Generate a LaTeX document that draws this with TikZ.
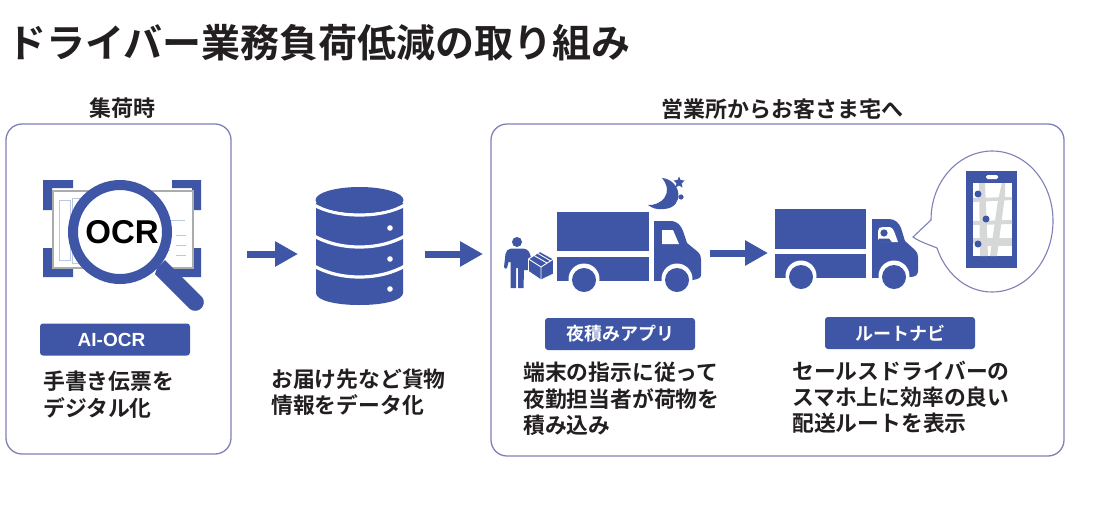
\documentclass[tikz,border=0pt]{standalone}
\usepackage{fontspec}
\setmainfont{Noto Sans CJK JP}[BoldFont={Noto Sans CJK JP Bold}]
\newfontfamily\latinb{Liberation Sans}[BoldFont={Liberation Sans Bold}]
\usetikzlibrary{arrows.meta}
\definecolor{navy}{HTML}{3F55A5}
\definecolor{frame}{HTML}{7F80B8}
\definecolor{road}{HTML}{D6D8D8}
\definecolor{ink}{HTML}{231F20}
\definecolor{faint}{HTML}{BBC8E4}
\tikzset{
  panel/.style={draw=frame,line width=1.3pt,fill=white,rounded corners=16pt},
  flow/.style={draw=navy,line width=7pt,-{Triangle[length=23pt,width=24pt]}},
  tag/.style={fill=navy,rounded corners=3pt,minimum width=150pt,minimum height=32pt,inner sep=0pt,text=white,font=\bfseries\fontsize{18}{18}\selectfont},
  caption/.style={anchor=west,inner sep=0pt,text=ink,font=\bfseries\fontsize{21.8}{21.8}\selectfont},
  heading/.style={inner sep=0pt,text=ink,font=\bfseries\fontsize{22}{22}\selectfont},
  icon/.style={fill=navy,draw=none},
  cut/.style={fill=white,draw=none},
  band/.style={draw=white,line width=3.2pt},
  pageline/.style={draw=faint,line width=.7pt}
}
\begin{document}
\begin{tikzpicture}[x=1pt,y=-1pt]
\useasboundingbox (0,0) rectangle (1102,504);
\fill[white] (0,0) rectangle (1102,504);
\node[anchor=west,inner sep=0pt,text=ink,font=\bfseries\fontsize{39}{39}\selectfont] (title) at (7,43) {ドライバー業務負荷低減の取り組み};
% panels
\draw[panel] (6,124) rectangle (231,454);
\draw[panel] (491,124) rectangle (1064,456);
\node[heading] (h1) at (122,108) {集荷時};
\node[heading] (h2) at (782,109) {営業所からお客さま宅へ};
% OCR icon
\fill[icon] (43,180) rectangle (73,188) (43,180) rectangle (52,210);
\fill[icon] (172,180) rectangle (201,188) (192,180) rectangle (201,210);
\fill[icon] (43,269) rectangle (73,277) (43,248) rectangle (52,277);
\fill[icon] (172,269) rectangle (201,277) (192,248) rectangle (201,277);
\draw[draw=road!80!black,fill=white,line width=1.2pt] (53,191) rectangle (193,268);
\draw[pageline] (59,200) rectangle (70,260) (72,198) rectangle (118,263) (120,205) -- (160,205) (125,220) -- (185,220) (125,250) -- (170,250) (176,235) -- (186,235) (176,245) -- (186,245) (176,255) -- (186,255);
\fill[icon] (157,268) -- (165,260) -- (202,297) .. controls (208,305) and (198,315) .. (190,309) -- (155,274) -- cycle;
\fill[white] (120,232) circle[radius=46];
\draw[navy,line width=10pt] (120,232) circle[radius=47];
\node[inner sep=0pt,text=black,font=\latinb\bfseries\fontsize{33}{33}\selectfont] (ocr) at (122,232) {OCR};
\node[tag] (t1) at (115,339.5) {\latinb\fontsize{19}{19}\selectfont AI-OCR\hspace*{7pt}};
\node[caption] (c1a) at (43,381) {手書き伝票を};
\node[caption] (c1b) at (43,408) {デジタル化};
% database
\fill[icon] (316,200) -- (403,200) -- (403,293) .. controls (403,300) and (385,305) .. (359.5,305) .. controls (334,305) and (316,300) .. (316,293) -- cycle;
\draw[band] (314,205) .. controls (325,211) and (340,215) .. (359.5,215) .. controls (379,215) and (394,211) .. (405,205);
\draw[band] (314,236) .. controls (325,242) and (340,247) .. (359.5,247) .. controls (379,247) and (394,242) .. (405,236);
\draw[band] (314,266) .. controls (325,272) and (340,277) .. (359.5,277) .. controls (379,277) and (394,272) .. (405,266);
\fill[white] (314,186) rectangle (405,203);
\fill[icon] (359.5,200) ellipse[x radius=44,y radius=13];
\fill[white] (390,228) circle[radius=2.8] (390,259) circle[radius=2.8] (390,289) circle[radius=2.8];
\node[caption] (c2a) at (271,379) {お届け先など貨物};
\node[caption] (c2b) at (271,405) {情報をデータ化};
% arrows
\coordinate (a1s) at (247,254); \coordinate (a1e) at (298,254);
\coordinate (a2s) at (425,254); \coordinate (a2e) at (483,254);
\coordinate (a3s) at (710,253); \coordinate (a3e) at (768,253);
\draw[flow] (a1s) -- (a1e);
\draw[flow] (a2s) -- (a2e);
\draw[flow] (a3s) -- (a3e);
% person and parcel
\fill[icon] (517,242) circle[radius=5];
\fill[icon] (511,248.5) -- (523,248.5) .. controls (528,249) and (530,252) .. (531,258) -- (531,270) -- (524,270) -- (523.5,288) -- (518,288) -- (518,268) -- (516,268) -- (516,288) -- (510.5,288) -- (510.5,262) -- (508.5,262) -- (507,268) .. controls (506,269) and (504,269) .. (504,267) -- (505.5,254) .. controls (506,251) and (508,249) .. (511,248.5) -- cycle;
\fill[icon,draw=white,line width=.9pt] (540,251.5) -- (553.5,259) -- (553.5,274) -- (541,280) -- (528.5,271.5) -- (528.5,259) -- cycle;
\draw[white,line width=.9pt] (528.5,259) -- (541,267) -- (553.5,259) (541,267) -- (541,280) (534,255.5) -- (547,263) (538,253.5) -- (551,261);
% truck 1
\fill[icon] (557,212) rectangle (649,251);
\fill[icon] (557,257) rectangle (649,281);
\fill[icon] (654,221) -- (670,221) .. controls (678,221) and (681,226) .. (683,231) -- (687,243) -- (698,252) .. controls (700,254) and (701,256) .. (701,259) -- (701,275) .. controls (701,278) and (698,279) .. (693,280) -- (654,281) -- cycle;
\fill[cut] (662,230) -- (673,230) -- (679,244) -- (662,244) -- cycle;
\fill[cut] (584,279) circle[radius=15.5] (677,279) circle[radius=15.5];
\fill[icon] (584,280) circle[radius=12] (677,280) circle[radius=12];
% moon and stars
\fill[icon] (662,178) .. controls (682,180) and (685,208) .. (664,209) .. controls (657,210) and (652,208) .. (648,205) .. controls (660,206) and (675,194) .. (662,178) -- cycle;
\fill[icon] (679,176.5) -- (680.5,180) -- (684.5,180.5) -- (681.5,183.5) -- (682.5,187.5) -- (679,185.5) -- (675.5,187.5) -- (676.5,183.5) -- (673.5,180.5) -- (677.5,180) -- cycle;
\fill[icon] (681,197) circle[radius=2.6];
% truck 2
\fill[icon] (775,209) rectangle (866,249);
\fill[icon] (775,254) rectangle (866,278);
\fill[icon] (872,219) -- (889,219) .. controls (895,219) and (899,223) .. (901,228) -- (905,241) -- (915,250) .. controls (917,252) and (918,254) .. (918,257) -- (918,271) .. controls (918,275) and (915,277) .. (910,277) -- (872,278) -- cycle;
\fill[cut] (878,242) -- (878,231) .. controls (878,228) and (880,227) .. (883,227) -- (888,227) .. controls (892,227) and (893,229) .. (894,231) -- (898,242) -- cycle;
\fill[icon] (884,233) circle[radius=3.6];
\fill[icon] (877,242.5) -- (879,238.5) -- (889,238.5) -- (892,242.5) -- cycle;
\fill[cut] (801,276) circle[radius=15.5] (894,276) circle[radius=15.5];
\fill[icon] (801,277) circle[radius=12] (894,277) circle[radius=12];
% speech bubble
\draw[frame,line width=1.1pt,fill=white] (913,237) -- (931,220) .. controls (931,180) and (960,151) .. (992,151) .. controls (1026,151) and (1053,182) .. (1053,221) .. controls (1053,260) and (1026,292) .. (992,292) .. controls (965,292) and (945,272) .. (937,248) .. controls (930,245) and (920,242) .. (913,237) -- cycle;
% phone
\fill[icon] (966,171) rectangle (1017,268);
\fill[white] (973,183) rectangle (1012,256);
\fill[white,rounded corners=1.5pt] (986,175) rectangle (998,179);
\begin{scope}
\clip (973,183) rectangle (1012,256);
\fill[road] (979,183) -- (985,183) -- (988,256) -- (980,256) -- cycle;
\fill[road] (1002,183) -- (1005,183) -- (1005,195) -- (997,256) -- (990,256) -- (998,200) -- cycle;
\fill[road] (973,198) -- (1012,197) -- (1012,200) -- (973,202) -- cycle;
\fill[road] (973,221) -- (1012,220) -- (1012,224) -- (973,225) -- cycle;
\fill[road] (973,238) rectangle (1012,243);
\fill[road] (985,238) rectangle (1012,246);
\end{scope}
\fill[icon] (978,194) circle[radius=3.5] (986,219) circle[radius=3.5] (978,244) circle[radius=3.5];
% tags and captions
\node[tag] (t2) at (620,334) {夜積みアプリ};
\node[tag] (t3) at (900,333) {ルートナビ};
\node[caption] (c3a) at (523,372) {端末の指示に従って};
\node[caption] (c3b) at (523,399) {夜勤担当者が荷物を};
\node[caption] (c3c) at (523,425) {積み込み};
\node[caption] (c4a) at (792,371) {セールスドライバーの};
\node[caption] (c4b) at (792,397) {スマホ上に効率の良い};
\node[caption] (c4c) at (792,423) {配送ルートを表示};
\end{tikzpicture}
\end{document}
